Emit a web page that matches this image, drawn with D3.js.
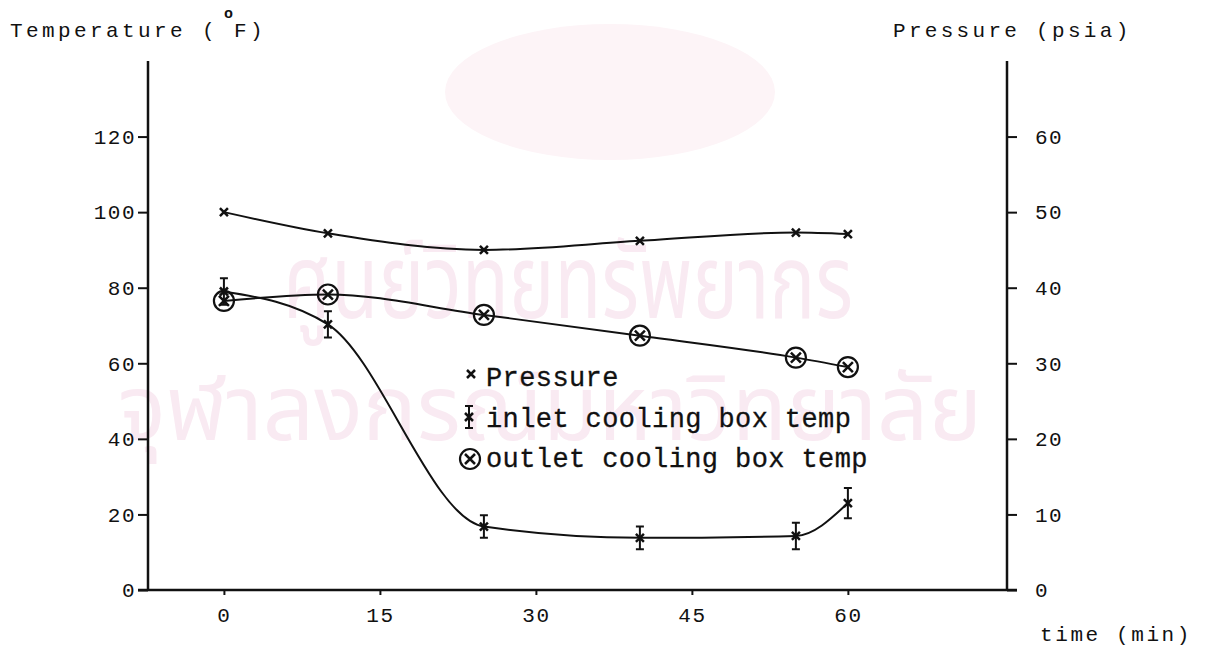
<!doctype html>
<html>
  <head>
    <script src="https://cdnjs.cloudflare.com/ajax/libs/d3/7.8.5/d3.min.js"></script>
    <style>
      body { margin: 0; background: #fff; }
      text { font-family: "Liberation Mono", "DejaVu Sans Mono", monospace; fill: #111; }
    </style>
  </head>
  <body>
    <svg id="chart" width="1216" height="651"></svg>
    <script>
        // time in minutes
        var times = [0, 10, 25, 40, 55, 60];
        // pressure (psia), right axis
        var pressure = [50, 47.2, 45, 46.2, 47.3, 47.1];
        // inlet cooling box temp (F) with error half-width
        var inletTemp = [79, 70.3, 16.8, 13.8, 14.3, 23];
        var inletErr = [3.5, 3.5, 3, 3, 3.5, 4];
        // outlet cooling box temp (F)
        var outletTemp = [76.5, 78.2, 72.8, 67.3, 61.5, 59];

        var xTicks = [0, 15, 30, 45, 60];
        var leftTicks = [0, 20, 40, 60, 80, 100, 120];
        var rightTicks = [0, 10, 20, 30, 40, 50, 60];

        var svg = d3.select("#chart");
        var plotL = 148, plotR = 1007, plotT = 61, plotB = 590;

        var x = d3.scaleLinear().domain([-7.3, 75.3]).range([plotL, plotR]);
        var yT = d3.scaleLinear().domain([0, 140]).range([plotB, plotT]);
        var yP = d3.scaleLinear().domain([0, 70]).range([plotB, plotT]);

        // faint watermark (scan background)
        var wm = svg.append("g").attr("class", "watermark");
        wm.append("ellipse")
            .attr("cx", 610).attr("cy", 92).attr("rx", 165).attr("ry", 68)
            .style("fill", "#fdf4f7");
        wm.append("text")
            .attr("transform", "translate(568,318) scale(0.74,1)")
            .attr("text-anchor", "middle")
            .style("font-family", "'Noto Sans Thai', 'Noto Sans', sans-serif")
            .style("font-size", "104px")
            .style("fill", "#f9eaf2")
            .text("ศูนย์วิทยทรัพยากร");
        wm.append("text")
            .attr("transform", "translate(550,440) scale(0.98,1)")
            .attr("text-anchor", "middle")
            .style("font-family", "'Noto Sans Thai', 'Noto Sans', sans-serif")
            .style("font-size", "92px")
            .style("fill", "#f9eaf2")
            .text("จุฬาลงกรณ์มหาวิทยาลัย");

        // axes
        var gL = svg.append("g")
            .attr("transform", "translate(" + plotL + ",0)")
            .call(d3.axisLeft(yT).tickValues(leftTicks).tickSize(10).tickPadding(2).tickFormat(d3.format("d")));
        var gR = svg.append("g")
            .attr("transform", "translate(" + plotR + ",0)")
            .call(d3.axisRight(yP).tickValues(rightTicks).tickSize(10).tickPadding(18).tickFormat(d3.format("d")));
        var gB = svg.append("g")
            .attr("transform", "translate(0," + plotB + ")")
            .call(d3.axisBottom(x).tickValues(xTicks).tickSize(5).tickPadding(12).tickFormat(d3.format("d")));

        [gL, gR, gB].forEach(function(g) {
            g.select(".domain").remove();
            g.selectAll("line").style("stroke", "#111").style("stroke-width", 2);
            g.selectAll("text")
                .style("font-family", "'Liberation Mono', monospace")
                .style("font-size", "21px")
                .style("letter-spacing", "1.5px")
                .style("fill", "#111");
        });

        // axis lines
        svg.append("line").attr("x1", plotL).attr("x2", plotL).attr("y1", plotT).attr("y2", plotB)
            .style("stroke", "#111").style("stroke-width", 2.5);
        svg.append("line").attr("x1", plotR).attr("x2", plotR).attr("y1", plotT).attr("y2", plotB)
            .style("stroke", "#111").style("stroke-width", 2.5);
        svg.append("line").attr("x1", plotL - 10).attr("x2", plotR + 10).attr("y1", plotB).attr("y2", plotB)
            .style("stroke", "#111").style("stroke-width", 2.5);

        // axis titles
        svg.append("text").attr("x", 10).attr("y", 37)
            .style("font-size", "21px").style("letter-spacing", "3.4px")
            .text("Temperature ( F)");
        svg.append("text").attr("x", 224).attr("y", 18)
            .style("font-size", "15px").style("font-weight", "bold")
            .text("o");
        svg.append("text").attr("x", 893).attr("y", 37)
            .style("font-size", "21px").style("letter-spacing", "3.3px")
            .text("Pressure (psia)");
        svg.append("text").attr("x", 1040).attr("y", 641)
            .style("font-size", "21px").style("letter-spacing", "2.6px")
            .text("time (min)");

        var pData = times.map((t, i) => ({t: t, v: pressure[i]}));
        var iData = times.map((t, i) => ({t: t, v: inletTemp[i], e: inletErr[i]}));
        var oData = times.map((t, i) => ({t: t, v: outletTemp[i]}));

        var lineP = d3.line().x(d => x(d.t)).y(d => yP(d.v)).curve(d3.curveMonotoneX);
        var lineT = d3.line().x(d => x(d.t)).y(d => yT(d.v)).curve(d3.curveMonotoneX);

        svg.append("path").attr("d", lineP(pData))
            .style("fill", "none").style("stroke", "#111").style("stroke-width", 2);
        svg.append("path").attr("d", lineT(iData))
            .style("fill", "none").style("stroke", "#111").style("stroke-width", 2);
        svg.append("path").attr("d", lineT(oData))
            .style("fill", "none").style("stroke", "#111").style("stroke-width", 2);

        function cross(g, cx, cy, s) {
            g.append("path")
                .attr("d", "M" + (cx - s) + "," + (cy - s) + "L" + (cx + s) + "," + (cy + s) +
                           "M" + (cx + s) + "," + (cy - s) + "L" + (cx - s) + "," + (cy + s))
                .style("stroke", "#111").style("stroke-width", 2.5).style("fill", "none");
        }
        function errBar(g, cx, y1, y2, w) {
            g.append("path")
                .attr("d", "M" + cx + "," + y1 + "L" + cx + "," + y2 +
                           "M" + (cx - w) + "," + y1 + "L" + (cx + w) + "," + y1 +
                           "M" + (cx - w) + "," + y2 + "L" + (cx + w) + "," + y2)
                .style("stroke", "#111").style("stroke-width", 2).style("fill", "none");
        }
        function ring(g, cx, cy, r) {
            g.append("circle").attr("cx", cx).attr("cy", cy).attr("r", r)
                .style("fill", "none").style("stroke", "#111").style("stroke-width", 2.2);
        }

        var marks = svg.append("g");
        pData.forEach(d => cross(marks, x(d.t), yP(d.v), 4));
        oData.forEach(d => { ring(marks, x(d.t), yT(d.v), 10); cross(marks, x(d.t), yT(d.v), 5); });
        iData.forEach(d => {
            errBar(marks, x(d.t), yT(d.v + d.e), yT(d.v - d.e), 4);
            cross(marks, x(d.t), yT(d.v), 4);
        });

        // legend
        var leg = svg.append("g");
        var legItems = ["Pressure", "inlet cooling box temp", "outlet cooling box temp"];
        var legY = d3.scalePoint().domain(legItems).range([386, 467]);
        leg.selectAll("text").data(legItems).enter().append("text")
            .attr("x", 486).attr("y", d => legY(d))
            .style("font-size", "27px").style("letter-spacing", "0.4px")
            .style("stroke", "#111").style("stroke-width", 0.3)
            .text(d => d);
        cross(leg, 471, 374, 4);
        errBar(leg, 469, 406, 428, 4);
        cross(leg, 469, 417, 4);
        ring(leg, 470, 459, 10);
        cross(leg, 470, 459, 5);
    </script>
  </body>
</html>
